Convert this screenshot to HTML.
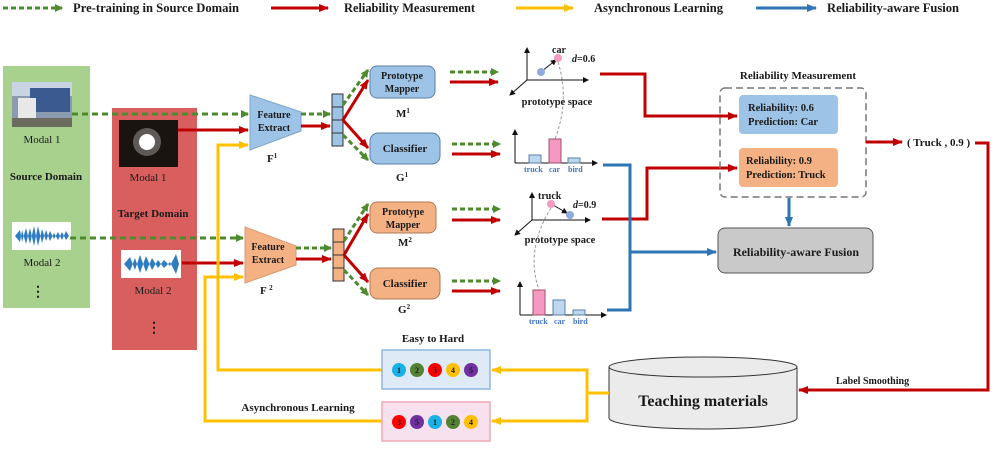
<!DOCTYPE html>
<html><head><meta charset="utf-8"><style>
body{margin:0;background:#fff}
svg text{font-family:"Liberation Serif",serif;font-weight:bold;fill:#1a1a1a}
</style></head><body>
<svg width="993" height="445" viewBox="0 0 993 445" xmlns="http://www.w3.org/2000/svg">
<defs>
<marker id="ag" markerWidth="8" markerHeight="8" refX="7" refY="4" orient="auto" markerUnits="userSpaceOnUse"><path d="M0,0 L8,4 L0,8 z" fill="#4e8a2e"/></marker>
<marker id="ar" markerWidth="10" markerHeight="8" refX="9" refY="4" orient="auto" markerUnits="userSpaceOnUse"><path d="M0,0 L10,4 L0,8 z" fill="#c00000"/></marker>
<marker id="ay" markerWidth="10" markerHeight="8" refX="9" refY="4" orient="auto" markerUnits="userSpaceOnUse"><path d="M0,0 L10,4 L0,8 z" fill="#ffc000"/></marker>
<marker id="ab" markerWidth="10" markerHeight="8" refX="9" refY="4" orient="auto" markerUnits="userSpaceOnUse"><path d="M0,0 L10,4 L0,8 z" fill="#2e75b6"/></marker>
<marker id="ak" markerWidth="6" markerHeight="6" refX="5" refY="3" orient="auto" markerUnits="userSpaceOnUse"><path d="M0,0 L6,3 L0,6 z" fill="#111"/></marker>
</defs>
<!-- legend -->
<line x1="3" y1="8" x2="62" y2="8" stroke="#4e8a2e" stroke-width="3" stroke-dasharray="5,3" marker-end="url(#ag)"/>
<text x="73" y="12" font-size="13" textLength="166" lengthAdjust="spacingAndGlyphs">Pre-training in Source Domain</text>
<line x1="271" y1="8" x2="328" y2="8" stroke="#c00000" stroke-width="3" marker-end="url(#ar)"/>
<text x="344" y="12" font-size="13" textLength="131" lengthAdjust="spacingAndGlyphs">Reliability Measurement</text>
<line x1="516" y1="8" x2="573" y2="8" stroke="#ffc000" stroke-width="3" marker-end="url(#ay)"/>
<text x="594" y="12" font-size="13" textLength="129" lengthAdjust="spacingAndGlyphs">Asynchronous Learning</text>
<line x1="756" y1="8" x2="816" y2="8" stroke="#2e75b6" stroke-width="3" marker-end="url(#ab)"/>
<text x="827" y="12" font-size="13" textLength="132" lengthAdjust="spacingAndGlyphs">Reliability-aware Fusion</text>

<!-- source panel -->
<rect x="3" y="66" width="87" height="242" fill="#a9d18e"/>
<rect x="12" y="82" width="60" height="45" fill="#8a9bb0"/>
<rect x="12" y="82" width="60" height="14" fill="#c9d4e2"/>
<rect x="30" y="88" width="40" height="24" fill="#3a5a90"/>
<rect x="18" y="98" width="18" height="22" fill="#e8e8e8"/>
<rect x="12" y="118" width="60" height="9" fill="#6b6b60"/>
<text x="42" y="143" font-size="11" text-anchor="middle" style="font-weight:normal">Modal 1</text>
<text x="46" y="180" font-size="11" text-anchor="middle">Source Domain</text>
<rect x="12" y="222" width="59" height="28" fill="#fff"/>
<path d="M15,236 L20,230 L22,242 L26,228 L30,244 L34,226 L38,246 L42,229 L46,241 L50,231 L54,239 L58,232 L62,240 L66,231 L69,236 L66,240 L62,232 L58,240 L54,233 L50,241 L46,230 L42,243 L38,226 L34,246 L30,228 L26,244 L22,230 L20,242 Z" fill="#2e7dc0"/>
<text x="42" y="266" font-size="11" text-anchor="middle" style="font-weight:normal">Modal 2</text>
<text x="38" y="296" font-size="14" text-anchor="middle">⋮</text>

<!-- target panel -->
<rect x="112" y="108" width="85" height="242" fill="#d95f5f"/>
<rect x="119" y="120" width="59" height="47" fill="#1a1410"/>
<circle cx="147" cy="142" r="8" fill="#fff"/>
<circle cx="147" cy="142" r="14" fill="#fff" opacity="0.3"/>
<text x="148" y="181" font-size="11" text-anchor="middle" style="font-weight:normal">Modal 1</text>
<text x="153" y="217" font-size="11" text-anchor="middle">Target Domain</text>
<rect x="121" y="250" width="60" height="28" fill="#fff"/>
<path d="M124,264 L130,257 L135,270 L140,255 L146,272 L152,258 L158,268 L164,260 L170,266 L176,254 L179,264 L176,274 L170,262 L164,268 L158,260 L152,270 L146,256 L140,273 L135,258 L130,271 Z" fill="#2e7dc0"/>
<text x="153" y="294" font-size="11" text-anchor="middle" style="font-weight:normal">Modal 2</text>
<text x="154" y="332" font-size="14" text-anchor="middle">⋮</text>

<!-- connectors to feature extractors -->
<line x1="72" y1="114" x2="248" y2="114" stroke="#4e8a2e" stroke-width="3" stroke-dasharray="6,4" marker-end="url(#ag)"/>
<line x1="178" y1="130" x2="248" y2="130" stroke="#c00000" stroke-width="3" marker-end="url(#ar)"/>
<line x1="70" y1="238" x2="243" y2="238" stroke="#4e8a2e" stroke-width="3" stroke-dasharray="6,4" marker-end="url(#ag)"/>
<line x1="182" y1="263" x2="243" y2="263" stroke="#c00000" stroke-width="3" marker-end="url(#ar)"/>
<polyline points="382,370 218,370 218,145 248,145" fill="none" stroke="#ffc000" stroke-width="3" marker-end="url(#ay)"/>
<polyline points="382,421 205,421 205,277 243,277" fill="none" stroke="#ffc000" stroke-width="3" marker-end="url(#ay)"/>

<!-- feature extractors -->
<polygon points="250,95 301,112 301,131 250,150" fill="#9dc3e6" stroke="#7fa6c8"/>
<text x="274" y="118" font-size="10" text-anchor="middle">Feature</text>
<text x="274" y="131" font-size="10" text-anchor="middle">Extract</text>
<text x="267" y="162" font-size="11">F<tspan font-size="7" dy="-4">1</tspan></text>
<polygon points="245,227 296,246 296,265 245,283" fill="#f4b183" stroke="#d99a70"/>
<text x="268" y="250" font-size="10" text-anchor="middle">Feature</text>
<text x="268" y="263" font-size="10" text-anchor="middle">Extract</text>
<text x="260" y="294" font-size="11">F <tspan font-size="7" dy="-4">2</tspan></text>

<line x1="301" y1="114" x2="330" y2="114" stroke="#4e8a2e" stroke-width="3" stroke-dasharray="5,3" marker-end="url(#ag)"/>
<line x1="301" y1="126" x2="330" y2="126" stroke="#c00000" stroke-width="3" marker-end="url(#ar)"/>
<line x1="296" y1="248" x2="331" y2="248" stroke="#4e8a2e" stroke-width="3" stroke-dasharray="5,3" marker-end="url(#ag)"/>
<line x1="296" y1="259" x2="331" y2="259" stroke="#c00000" stroke-width="3" marker-end="url(#ar)"/>

<g stroke="#333" stroke-width="1" fill="#9dc3e6">
<rect x="332" y="94" width="11" height="13"/><rect x="332" y="107" width="11" height="13"/><rect x="332" y="120" width="11" height="13"/><rect x="332" y="133" width="11" height="13"/>
</g>
<g stroke="#333" stroke-width="1" fill="#f4b183">
<rect x="333" y="229" width="11" height="13"/><rect x="333" y="242" width="11" height="13"/><rect x="333" y="255" width="11" height="13"/><rect x="333" y="268" width="11" height="13"/>
</g>
<line x1="343" y1="105" x2="368" y2="70" stroke="#4e8a2e" stroke-width="3" stroke-dasharray="5,3" marker-end="url(#ag)"/>
<line x1="343" y1="120" x2="368" y2="80" stroke="#c00000" stroke-width="3" marker-end="url(#ar)"/>
<line x1="343" y1="120" x2="368" y2="148" stroke="#c00000" stroke-width="3" marker-end="url(#ar)"/>
<line x1="343" y1="135" x2="368" y2="160" stroke="#4e8a2e" stroke-width="3" stroke-dasharray="5,3" marker-end="url(#ag)"/>
<line x1="344" y1="241" x2="368" y2="204" stroke="#4e8a2e" stroke-width="3" stroke-dasharray="5,3" marker-end="url(#ag)"/>
<line x1="344" y1="255" x2="368" y2="214" stroke="#c00000" stroke-width="3" marker-end="url(#ar)"/>
<line x1="344" y1="255" x2="368" y2="282" stroke="#c00000" stroke-width="3" marker-end="url(#ar)"/>
<line x1="344" y1="270" x2="368" y2="295" stroke="#4e8a2e" stroke-width="3" stroke-dasharray="5,3" marker-end="url(#ag)"/>

<rect x="370" y="66" width="65" height="32" rx="7" fill="#9dc3e6" stroke="#5a7fa8"/>
<text x="402" y="79" font-size="10" text-anchor="middle">Prototype</text>
<text x="402" y="92" font-size="10" text-anchor="middle">Mapper</text>
<text x="396" y="117" font-size="11">M<tspan font-size="7" dy="-4">1</tspan></text>
<rect x="370" y="133" width="70" height="31" rx="8" fill="#9dc3e6" stroke="#5a7fa8"/>
<text x="405" y="152" font-size="11" text-anchor="middle">Classifier</text>
<text x="396" y="181" font-size="11">G<tspan font-size="7" dy="-4">1</tspan></text>
<rect x="370" y="202" width="66" height="31" rx="7" fill="#f4b183" stroke="#b07a55"/>
<text x="403" y="215" font-size="10" text-anchor="middle">Prototype</text>
<text x="403" y="228" font-size="10" text-anchor="middle">Mapper</text>
<text x="398" y="246" font-size="11">M<tspan font-size="7" dy="-4">2</tspan></text>
<rect x="370" y="268" width="70" height="31" rx="8" fill="#f4b183" stroke="#b07a55"/>
<text x="405" y="287" font-size="11" text-anchor="middle">Classifier</text>
<text x="398" y="313" font-size="11">G<tspan font-size="7" dy="-4">2</tspan></text>

<g stroke-width="3">
<line x1="450" y1="72" x2="498" y2="72" stroke="#4e8a2e" stroke-dasharray="5,3" marker-end="url(#ag)"/>
<line x1="450" y1="82" x2="498" y2="82" stroke="#c00000" marker-end="url(#ar)"/>
<line x1="452" y1="144" x2="500" y2="144" stroke="#4e8a2e" stroke-dasharray="5,3" marker-end="url(#ag)"/>
<line x1="452" y1="154" x2="500" y2="154" stroke="#c00000" marker-end="url(#ar)"/>
<line x1="452" y1="209" x2="500" y2="209" stroke="#4e8a2e" stroke-dasharray="5,3" marker-end="url(#ag)"/>
<line x1="452" y1="220" x2="500" y2="220" stroke="#c00000" marker-end="url(#ar)"/>
<line x1="452" y1="281" x2="500" y2="281" stroke="#4e8a2e" stroke-dasharray="5,3" marker-end="url(#ag)"/>
<line x1="452" y1="291" x2="500" y2="291" stroke="#c00000" marker-end="url(#ar)"/>
</g>

<g stroke="#111" stroke-width="1">
<line x1="527" y1="80" x2="527" y2="48" marker-end="url(#ak)"/>
<line x1="527" y1="80" x2="588" y2="80" marker-end="url(#ak)"/>
<line x1="527" y1="80" x2="510" y2="95" marker-end="url(#ak)"/>
<line x1="542" y1="71" x2="556" y2="60" marker-end="url(#ak)"/>
</g>
<circle cx="558" cy="58" r="4" fill="#f49ac1"/><circle cx="541" cy="72" r="4" fill="#8faadc"/>
<text x="552" y="53" font-size="10">car</text>
<text x="572" y="62" font-size="10"><tspan font-style="italic">d</tspan>=0.6</text>
<text x="557" y="105" font-size="10.5" text-anchor="middle">prototype space</text>
<path d="M558,62 Q570,100 555,139" fill="none" stroke="#999" stroke-dasharray="3,2"/>
<g stroke="#111"><line x1="515" y1="163" x2="597" y2="163" marker-end="url(#ak)"/><line x1="515" y1="163" x2="515" y2="130" marker-end="url(#ak)"/></g>
<rect x="529" y="155" width="12" height="8" fill="#bdd7ee" stroke="#5a7fa8"/>
<rect x="549" y="139" width="12" height="24" fill="#f49ac1" stroke="#a05070"/>
<rect x="568" y="158" width="12" height="5" fill="#bdd7ee" stroke="#5a7fa8"/>
<text x="524" y="172" font-size="8" style="fill:#4472c4">truck</text>
<text x="549" y="172" font-size="8" style="fill:#4472c4">car</text>
<text x="568" y="172" font-size="8" style="fill:#4472c4">bird</text>

<g stroke="#111" stroke-width="1">
<line x1="532" y1="220" x2="532" y2="193" marker-end="url(#ak)"/>
<line x1="532" y1="220" x2="590" y2="220" marker-end="url(#ak)"/>
<line x1="532" y1="220" x2="515" y2="235" marker-end="url(#ak)"/>
<line x1="553" y1="205" x2="567" y2="213" marker-end="url(#ak)"/>
</g>
<circle cx="551" cy="204" r="4" fill="#f49ac1"/><circle cx="570" cy="215" r="4" fill="#8faadc"/>
<text x="538" y="199" font-size="10">truck</text>
<text x="573" y="208" font-size="10"><tspan font-style="italic">d</tspan>=0.9</text>
<text x="560" y="243" font-size="10.5" text-anchor="middle">prototype space</text>
<path d="M551,208 Q525,250 539,290" fill="none" stroke="#999" stroke-dasharray="3,2"/>
<g stroke="#111"><line x1="520" y1="315" x2="606" y2="315" marker-end="url(#ak)"/><line x1="520" y1="315" x2="520" y2="282" marker-end="url(#ak)"/></g>
<rect x="533" y="290" width="12" height="25" fill="#f49ac1" stroke="#a05070"/>
<rect x="553" y="300" width="12" height="15" fill="#bdd7ee" stroke="#5a7fa8"/>
<rect x="573" y="310" width="12" height="5" fill="#bdd7ee" stroke="#5a7fa8"/>
<text x="529" y="324" font-size="8" style="fill:#4472c4">truck</text>
<text x="554" y="324" font-size="8" style="fill:#4472c4">car</text>
<text x="573" y="324" font-size="8" style="fill:#4472c4">bird</text>

<polyline points="600,74 645,74 645,116 737,116" fill="none" stroke="#c00000" stroke-width="3" marker-end="url(#ar)"/>
<polyline points="602,219 647,219 647,168 737,168" fill="none" stroke="#c00000" stroke-width="3" marker-end="url(#ar)"/>
<polyline points="603,165 630,165 630,310 607,310" fill="none" stroke="#2e75b6" stroke-width="3"/>
<line x1="630" y1="252" x2="716" y2="252" stroke="#2e75b6" stroke-width="3" marker-end="url(#ab)"/>

<text x="798" y="79" font-size="11" text-anchor="middle">Reliability Measurement</text>
<rect x="720" y="88" width="146" height="109" rx="5" fill="none" stroke="#777" stroke-width="1.5" stroke-dasharray="7,4"/>
<rect x="739" y="95" width="99" height="39" rx="4" fill="#9dc3e6"/>
<text x="748" y="111" font-size="10.5">Reliability:  0.6</text>
<text x="748" y="125" font-size="10.5">Prediction:  Car</text>
<rect x="739" y="148" width="99" height="39" rx="4" fill="#f4b183"/>
<text x="746" y="164" font-size="10.5">Reliability:  0.9</text>
<text x="746" y="178" font-size="10.5">Prediction: Truck</text>
<line x1="789" y1="198" x2="789" y2="226" stroke="#2e75b6" stroke-width="3" marker-end="url(#ab)"/>
<rect x="718" y="228" width="155" height="45" rx="7" fill="#c9c9c9" stroke="#555"/>
<text x="796" y="256" font-size="12" text-anchor="middle">Reliability-aware Fusion</text>

<line x1="866" y1="142" x2="902" y2="142" stroke="#c00000" stroke-width="3" marker-end="url(#ar)"/>
<text x="907" y="146" font-size="11">( Truck , 0.9 )</text>
<polyline points="975,143 988,143 988,390 799,390" fill="none" stroke="#c00000" stroke-width="3" marker-end="url(#ar)"/>
<text x="836" y="384" font-size="10">Label Smoothing</text>

<path d="M609,367 L609,418 A94,11 0 0 0 797,418 L797,367" fill="#ebebeb" stroke="#333"/>
<ellipse cx="703" cy="367" rx="94" ry="10" fill="#ebebeb" stroke="#333"/>
<text x="703" y="406" font-size="16" text-anchor="middle">Teaching materials</text>

<polyline points="609,393 587,393 587,370 492,370" fill="none" stroke="#ffc000" stroke-width="3" marker-end="url(#ay)"/>
<polyline points="587,393 587,421 492,421" fill="none" stroke="#ffc000" stroke-width="3" marker-end="url(#ay)"/>

<text x="433" y="342" font-size="11" text-anchor="middle">Easy to Hard</text>
<rect x="382" y="350" width="108" height="39" fill="#deebf7" stroke="#8fb6dd" stroke-width="1.5"/>
<g text-anchor="middle">
<circle cx="399" cy="370" r="7" fill="#1ab0e8"/><text x="399" y="373" font-size="8">1</text>
<circle cx="417" cy="370" r="7" fill="#548235"/><text x="417" y="373" font-size="8">2</text>
<circle cx="435" cy="370" r="7" fill="#ff0000"/><text x="435" y="373" font-size="8">3</text>
<circle cx="453" cy="370" r="7" fill="#ffc000"/><text x="453" y="373" font-size="8">4</text>
<circle cx="471" cy="370" r="7" fill="#7030a0"/><text x="471" y="373" font-size="8">5</text>
</g>
<text x="298" y="411" font-size="11" text-anchor="middle">Asynchronous Learning</text>
<rect x="382" y="402" width="108" height="39" fill="#f7e1ef" stroke="#f0a8b4" stroke-width="1.5"/>
<g text-anchor="middle">
<circle cx="399" cy="422" r="7" fill="#ff0000"/><text x="399" y="425" font-size="8">3</text>
<circle cx="417" cy="422" r="7" fill="#7030a0"/><text x="417" y="425" font-size="8">5</text>
<circle cx="435" cy="422" r="7" fill="#1ab0e8"/><text x="435" y="425" font-size="8">1</text>
<circle cx="453" cy="422" r="7" fill="#548235"/><text x="453" y="425" font-size="8">2</text>
<circle cx="471" cy="422" r="7" fill="#ffc000"/><text x="471" y="425" font-size="8">4</text>
</g>
</svg>
</body></html>
